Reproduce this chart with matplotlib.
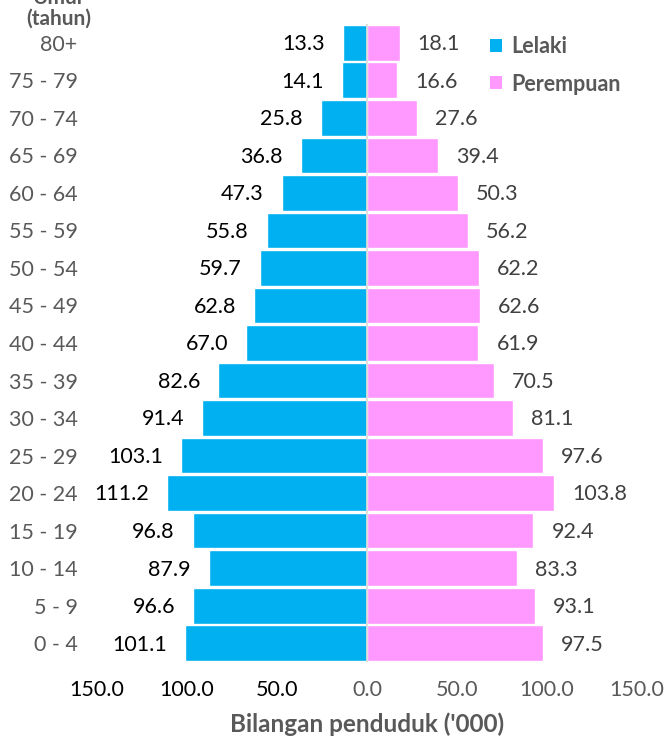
import matplotlib
matplotlib.use("Agg")
import matplotlib.pyplot as plt
from matplotlib.patches import Patch
import numpy as np

plt.rcParams['font.family'] = ['Lato', 'DejaVu Sans']

age_groups = ["0 - 4", "5 - 9", "10 - 14", "15 - 19", "20 - 24", "25 - 29", "30 - 34",
              "35 - 39", "40 - 44", "45 - 49", "50 - 54", "55 - 59", "60 - 64",
              "65 - 69", "70 - 74", "75 - 79", "80+"]
male = [101.1, 96.6, 87.9, 96.8, 111.2, 103.1, 91.4, 82.6, 67.0, 62.8, 59.7,
        55.8, 47.3, 36.8, 25.8, 14.1, 13.3]
female = [97.5, 93.1, 83.3, 92.4, 103.8, 97.6, 81.1, 70.5, 61.9, 62.6, 62.2,
          56.2, 50.3, 39.4, 27.6, 16.6, 18.1]
xticks = [-150, -100, -50, 0, 50, 100, 150]
xticklabels = ["150.0", "100.0", "50.0", "0.0", "50.0", "100.0", "150.0"]

BLUE = "#00B0F0"
PINK = "#FF99FF"
GRAY = "#595959"

fig = plt.figure(figsize=(6.68, 7.38), dpi=100)
ax = fig.add_axes([0.1452, 0.1030, 0.8084, 0.8645])

y = np.arange(len(age_groups))
ax.barh(y, [-v for v in male], height=0.95, color=BLUE, edgecolor="white", linewidth=1)
ax.barh(y, female, height=0.95, color=PINK, edgecolor="white", linewidth=1)
ax.axvline(0, color="#D9D9D9", linewidth=1.2, zorder=3)

fs = 15.5
for yi, m, f in zip(y, male, female):
    ax.annotate(f"{m:.1f}", (-m, yi), xytext=(-13, -1), textcoords="offset points",
                ha="right", va="center", fontsize=fs, color="black")
    ax.annotate(f"{f:.1f}", (f, yi), xytext=(13, -1), textcoords="offset points",
                ha="left", va="center", fontsize=fs, color="#404040")

ax.set_xlim(-150, 150)
ax.set_ylim(-0.5, len(age_groups) - 0.5)
ax.set_yticks(y)
ax.set_yticklabels(age_groups, fontsize=fs, color=GRAY)
ax.set_xticks(xticks)
ax.set_xticklabels(xticklabels, fontsize=fs)
for lbl, v in zip(ax.get_xticklabels(), xticks):
    lbl.set_color("black" if v < 0 else GRAY)
ax.tick_params(axis="x", length=0, pad=13)
ax.tick_params(axis="y", length=0, pad=14)

for s in ["top", "right", "bottom", "left"]:
    ax.spines[s].set_visible(False)

ax.set_xlabel("Bilangan penduduk ('000)", fontsize=17.5, fontweight="bold", color=GRAY,
              labelpad=9)

fig.text(59 / 668, 1 - 19 / 738, "(tahun)", ha="center", va="center",
         fontsize=15, fontweight="bold", color=GRAY)
fig.text(59 / 668, 1 + 2 / 738, "Umur", ha="center", va="center",
         fontsize=15, fontweight="bold", color=GRAY)

handles = [Patch(facecolor=BLUE, label="Lelaki"), Patch(facecolor=PINK, label="Perempuan")]
leg = fig.legend(handles=handles, loc="upper left", bbox_to_anchor=(471 / 668, 1 - 17 / 738),
                 frameon=False, handlelength=0.55, handleheight=0.55, handletextpad=0.4,
                 labelspacing=0.75, prop={"size": 15.5, "weight": "bold"})
for t in leg.get_texts():
    t.set_color(GRAY)

fig.savefig("out.png", dpi=100)
